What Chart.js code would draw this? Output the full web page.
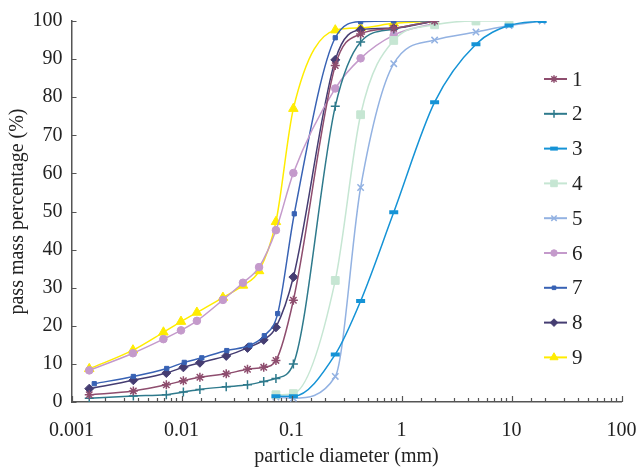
<!DOCTYPE html>
<html><head><meta charset="utf-8">
<script src="https://cdn.jsdelivr.net/npm/chart.js@4.4.1/dist/chart.umd.min.js"></script>
<style>html,body{margin:0;padding:0;background:#fff;}</style>
</head><body>
<canvas id="c" width="642" height="467"></canvas>
<script>
// ---- data ----
const seriesNames = ['1','2','3','4','5','6','7','8','9'];
const fineA = [0.00145, 0.00362, 0.00685, 0.00989, 0.0138, 0.0238, 0.0362, 0.0507, 0.0722, 0.104];
const fineB = [0.00145, 0.00365, 0.00728, 0.0104, 0.0147, 0.0255, 0.0398, 0.0559, 0.0722, 0.104];
const fineC = [0.00161, 0.00365, 0.00734, 0.0106, 0.0153, 0.0258, 0.042, 0.0566, 0.0749, 0.106];
const sieveFine = [0.25, 0.425, 0.85, 2];
const sieveAll = [0.0722, 0.104, 0.25, 0.425, 0.85, 2, 4.75, 9.5, 19];

const pass1 = [1.9, 2.9, 4.5, 5.6, 6.5, 7.4, 8.6, 9.1, 10.9, 26.7, 88.3, 96.6, 98.1, 100];
const pass2 = [1.0, 1.6, 1.9, 2.6, 3.3, 4.0, 4.5, 5.4, 6.2, 10.0, 77.6, 94.5, 97.9, 100];
const pass3 = [1.5, 1.5, 12.5, 26.5, 49.8, 78.7, 93.9, 98.8, 100];
const pass4 = [1.9, 2.2, 31.9, 75.4, 94.9, 99.0, 100, 100];
const pass5 = [1.3, 1.0, 6.7, 56.3, 88.8, 95.0, 97.1, 98.8, 100];
const pass6 = [8.3, 12.8, 16.5, 18.8, 21.3, 26.8, 31.3, 35.4, 45.1, 60.1, 82.3, 90.2, 96.3, 99.4];
const pass7 = [4.8, 6.7, 8.8, 10.4, 11.6, 13.5, 14.9, 17.4, 23.2, 49.4, 95.6, 99.8, 100, 100];
const pass8 = [3.5, 5.7, 7.6, 9.1, 10.3, 12.1, 14.2, 16.3, 19.6, 32.8, 89.8, 97.7, 98.1, 100];
const pass9 = [8.7, 13.6, 18.3, 21.1, 23.5, 27.4, 30.6, 34.4, 47.3, 77.0, 97.6, 98.2, 99.4, 100];

const xTickLabels = ['0.001', '0.01', '0.1', '1', '10', '100'];
const yTicks = [0, 10, 20, 30, 40, 50, 60, 70, 80, 90, 100];

// ---- build ----
const sizesFor = [
  fineB.concat(sieveFine), fineB.concat(sieveFine), sieveAll, sieveAll, sieveAll,
  fineA.concat(sieveFine), fineC.concat(sieveFine), fineB.concat(sieveFine), fineA.concat(sieveFine)
];
const passFor = [pass1, pass2, pass3, pass4, pass5, pass6, pass7, pass8, pass9];
const colors = ['#8e4d6e', '#2e7a8c', '#1593d6', '#c6e6d3', '#93b2e2', '#c49acb', '#3862b4', '#453d72', '#ffec00'];
const styles = ['star', 'cross', 'line', 'rect', 'crossRot', 'circle', 'rect', 'rectRot', 'triangle'];
const radii = [4.5, 4.5, 4.5, 5.5, 4.5, 3.8, 3, 4.5, 5.5];
const pbw = [1.5, 1.5, 4, 1, 1.5, 1, 1, 1, 1];

const datasets = seriesNames.map((n, i) => ({
  label: n,
  data: passFor[i].map((v, k) => ({x: sizesFor[i][k], y: v})),
  borderColor: colors[i],
  backgroundColor: colors[i],
  pointBackgroundColor: colors[i],
  pointBorderColor: colors[i],
  pointStyle: styles[i],
  pointRadius: radii[i],
  pointBorderWidth: pbw[i],
  borderWidth: 1.5,
  cubicInterpolationMode: 'monotone',
  fill: false
}));

const serif = 'Liberation Serif, Times New Roman, serif';
const isPow10 = v => Math.abs(Math.log10(v) - Math.round(Math.log10(v))) < 1e-6;

const tickMarks = {
  id: 'tickMarks',
  afterDraw(chart) {
    const ctx = chart.ctx, xs = chart.scales.x, ys = chart.scales.y;
    ctx.save();
    ctx.strokeStyle = '#555';
    ctx.lineWidth = 1.2;
    ctx.beginPath();
    yTicks.forEach(v => {
      const py = Math.round(ys.getPixelForValue(v)) + 0.5;
      ctx.moveTo(xs.left, py); ctx.lineTo(xs.left + 5, py);
    });
    xs.ticks.forEach(t => {
      const px = Math.round(xs.getPixelForValue(t.value)) + 0.5;
      const len = isPow10(t.value) ? 6 : 4;
      ctx.moveTo(px, ys.bottom); ctx.lineTo(px, ys.bottom - len);
    });
    ctx.stroke();
    ctx.restore();
  }
};

const innerLegend = {
  id: 'innerLegend',
  afterDraw(chart) {
    const ctx = chart.ctx;
    const x0 = 544;
    ctx.save();
    chart.data.datasets.forEach((ds, i) => {
      const y = 79 + i * 34.8;
      ctx.strokeStyle = ds.borderColor;
      ctx.lineWidth = 2;
      ctx.beginPath(); ctx.moveTo(x0, y); ctx.lineTo(x0 + 23, y); ctx.stroke();
      ctx.fillStyle = ds.pointBackgroundColor;
      ctx.strokeStyle = ds.pointBorderColor;
      ctx.lineWidth = ds.pointBorderWidth;
      Chart.helpers.drawPoint(ctx, {pointStyle: ds.pointStyle, radius: ds.pointRadius * 0.85, rotation: 0, borderWidth: ds.pointBorderWidth}, x0 + 10, y);
      ctx.fillStyle = '#222';
      ctx.font = '21px ' + serif;
      ctx.textBaseline = 'middle';
      ctx.textAlign = 'left';
      ctx.fillText(ds.label, x0 + 28, y + 1);
    });
    ctx.restore();
  }
};

new Chart(document.getElementById('c'), {
  type: 'line',
  data: {datasets},
  plugins: [tickMarks, innerLegend],
  options: {
    responsive: false,
    animation: false,
    layout: {padding: {left: 0, right: 20.5, top: 21, bottom: 0}},
    plugins: {legend: {display: false}, tooltip: {enabled: false}},
    scales: {
      x: {
        type: 'logarithmic', min: 0.001, max: 100,
        grid: {display: false, drawTicks: false},
        border: {display: true, color: '#555', width: 1.5},
        ticks: {
          autoSkip: false, maxRotation: 0, padding: 17, color: '#222',
          font: {family: serif, size: 20},
          callback: v => isPow10(v) ? xTickLabels[Math.round(Math.log10(v)) + 3] : ''
        },
        title: {display: true, text: 'particle diameter (mm)', color: '#222',
                font: {family: serif, size: 20}, padding: {top: 0, bottom: -2}},
        afterFit: s => { s.height = 65; s.paddingLeft = 0; s.paddingRight = 0; }
      },
      y: {
        min: 0, max: 100,
        grid: {display: false, drawTicks: false},
        border: {display: true, color: '#555', width: 1.5},
        afterBuildTicks: s => { s.ticks = yTicks.map(v => ({value: v})); },
        ticks: {padding: 9, color: '#222', font: {family: serif, size: 20}},
        title: {display: true, text: 'pass mass percentage (%)', color: '#222',
                font: {family: serif, size: 20}, padding: {top: 6, bottom: 0}},
        afterFit: s => { s.width = 71.5; s.paddingTop = 0; s.paddingBottom = 0; }
      }
    }
  }
});
</script>
</body></html>
